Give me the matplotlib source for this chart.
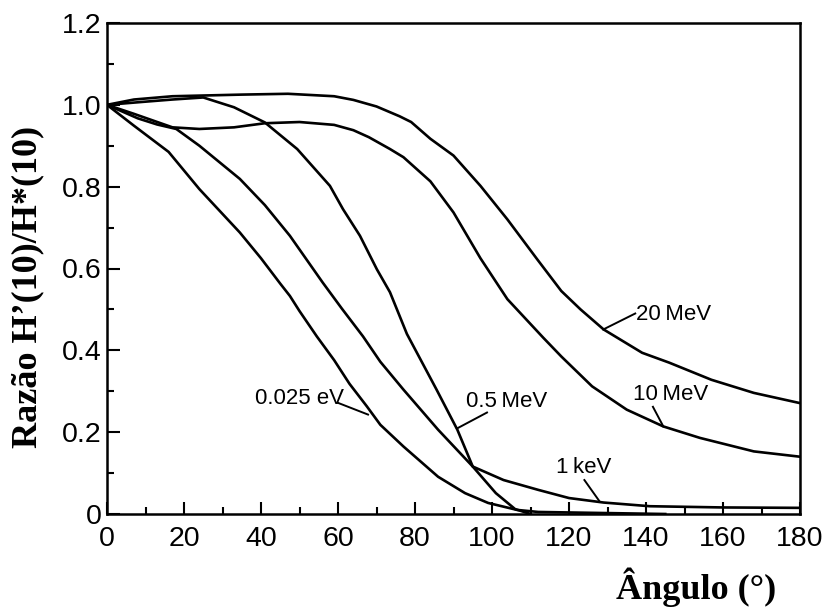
import numpy as np
import matplotlib.pyplot as plt
from matplotlib.ticker import MultipleLocator

ang_20mev = [0, 7, 17, 35, 47, 59, 64, 70, 76, 79, 84, 90, 97, 104, 111.7, 118, 123, 129, 139, 146,
             157, 168, 180]
rat_20mev = [1.0, 1.013, 1.021, 1.025, 1.027, 1.021, 1.012, 0.996, 0.972, 0.958, 0.917, 0.876, 0.802,
             0.720, 0.623, 0.545, 0.500, 0.451, 0.394, 0.370, 0.328, 0.296, 0.271]

ang_10mev = [0, 7, 17, 24, 33, 41, 50, 59, 64, 68, 73.5, 77, 84, 90, 97, 104, 113.3, 118, 126, 135,
             144.5, 154, 168, 180]
rat_10mev = [1.0, 0.978, 0.945, 0.941, 0.945, 0.955, 0.958, 0.951, 0.938, 0.921, 0.892, 0.872, 0.813,
             0.737, 0.625, 0.525, 0.431, 0.385, 0.312, 0.255, 0.214, 0.186, 0.153, 0.140]

ang_05mev = [0, 9, 17, 25, 33, 41, 49.4, 57.9, 61.3, 65.7, 70.1, 73.5, 77.9, 85.6, 91, 95, 101, 106, 110]
rat_05mev = [1.0, 1.007, 1.013, 1.018, 0.994, 0.957, 0.892, 0.802, 0.745, 0.680, 0.598, 0.542, 0.440,
             0.304, 0.206, 0.116, 0.051, 0.012, 0.0]

ang_1kev = [0, 8, 13, 18, 24, 34.5, 41, 47.5, 56, 61, 66.5, 71, 77, 86, 95, 103, 112, 120, 129, 141, 160, 180]
rat_1kev = [1.0, 0.967, 0.952, 0.941, 0.900, 0.819, 0.755, 0.680, 0.566, 0.502, 0.434, 0.372, 0.304,
            0.206, 0.116, 0.083, 0.059, 0.039, 0.028, 0.019, 0.016, 0.015]

ang_0025ev = [0, 7, 16, 24, 34.5, 40, 45, 47.5, 50, 54.5, 59, 63, 67.5, 71, 77, 86, 93, 99, 106.5, 112, 125, 145]
rat_0025ev = [1.0, 0.949, 0.885, 0.794, 0.688, 0.625, 0.563, 0.533, 0.496, 0.434, 0.376, 0.318, 0.263,
              0.218, 0.165, 0.091, 0.051, 0.027, 0.010, 0.005, 0.003, 0.0]

curves = [(ang_20mev, rat_20mev), (ang_10mev, rat_10mev), (ang_05mev, rat_05mev),
          (ang_1kev, rat_1kev), (ang_0025ev, rat_0025ev)]

# curve labels: text, text anchor (left, middle), leader start (on curve), leader end
labels = ["20\u2009MeV", "10\u2009MeV", "0.5\u2009MeV", "1\u2009keV", "0.025 eV"]
label_pos = [(137.5, 0.488), (136.5, 0.292), (93.3, 0.276), (116.5, 0.113), (38.5, 0.282)]
leader_from = [(128.9, 0.451), (144.5, 0.214), (90.9, 0.209), (128.0, 0.030), (67.8, 0.243)]
leader_to = [(137.2, 0.490), (141.8, 0.262), (98.7, 0.248), (124.0, 0.083), (59.9, 0.272)]

x_ticks = np.arange(0, 181, 20)
y_ticks = [0, 0.2, 0.4, 0.6, 0.8, 1.0, 1.2]
y_tick_labels = ["0", "0.2", "0.4", "0.6", "0.8", "1.0", "1.2"]

plt.rcParams['font.family'] = ['Liberation Sans', 'DejaVu Sans']

fig = plt.figure(figsize=(8.31, 6.09), dpi=100)
ax = fig.add_axes([107/831, 1-514/609, 693/831, 491/609])

for a, r in curves:
    ax.plot(a, r, color='k', lw=1.9, solid_joinstyle='round')

for txt, p, f, t in zip(labels, label_pos, leader_from, leader_to):
    ax.plot([f[0], t[0]], [f[1], t[1]], color='k', lw=1.4)
    ax.text(p[0], p[1], txt, ha='left', va='center', fontsize=16,
            family=['Liberation Sans', 'DejaVu Sans'])

ax.set_xlim(0, 180)
ax.set_ylim(0, 1.2)
ax.set_xticks(x_ticks)
ax.set_yticks(y_ticks)
ax.set_yticklabels(y_tick_labels)
ax.xaxis.set_minor_locator(MultipleLocator(10))
ax.yaxis.set_minor_locator(MultipleLocator(0.1))
ax.tick_params(which='both', direction='in', width=1.5, labelsize=20.5)
ax.tick_params(which='major', length=9)
ax.tick_params(which='minor', length=5)
ax.tick_params(axis='x', pad=9)
ax.tick_params(axis='y', pad=4)
for s in ax.spines.values():
    s.set_linewidth(1.8)

fig.text(28/831, 1-287/609, "Razão H’(10)/H*(10)", rotation=90, ha='center', va='center',
         fontsize=26, fontweight='bold', family='Liberation Serif')
fig.text(696/831, 1-587/609, "Ângulo (°)", ha='center', va='center',
         fontsize=26, fontweight='bold', family='Liberation Serif')

fig.savefig("out.png", dpi=100)
